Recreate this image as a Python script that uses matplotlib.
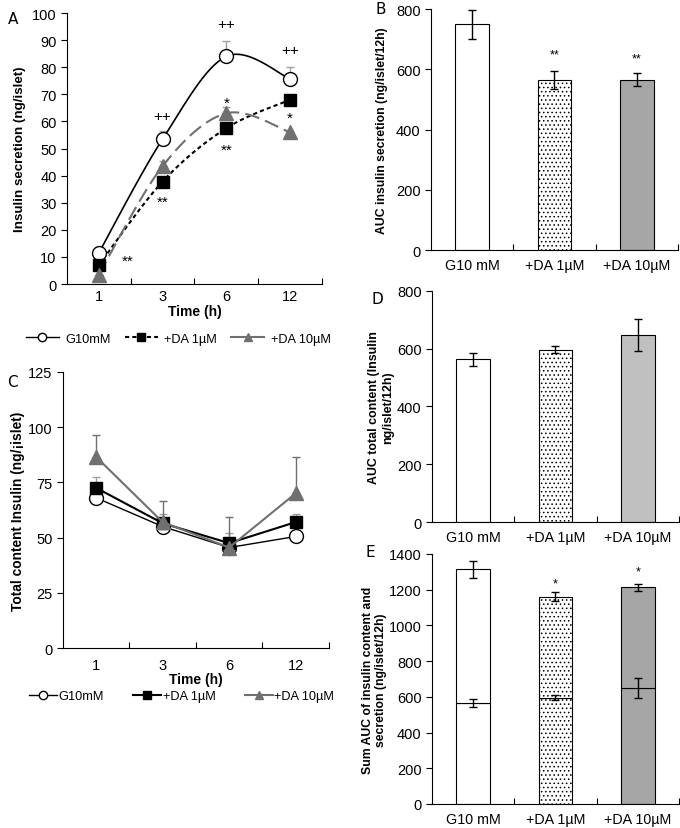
import numpy as np
import matplotlib
matplotlib.use('Agg')
import matplotlib.pyplot as plt
from matplotlib.lines import Line2D

plt.rcParams['font.family'] = ['Liberation Sans', 'DejaVu Sans']
plt.rcParams['hatch.linewidth'] = 0.6
plt.rcParams['font.size'] = 10

# ---- data ----
time_labels = ['1', '3', '6', '12']
series_names = ['G10mM', '+DA 1µM', '+DA 10µM']
groups = ['G10 mM', '+DA 1µM', '+DA 10µM']

# A: insulin secretion (ng/islet)
sec_g10 = [11.5, 53.5, 84.0, 75.7]
sec_da1 = [7.0, 37.8, 57.5, 68.0]
sec_da10 = [3.5, 43.5, 63.0, 56.0]
sec_g10_err = [0.0, 2.8, 5.5, 4.5]
sec_da10_err = [0.0, 2.0, 2.5, 0.0]

# C: total content insulin (ng/islet)
cont_g10 = [68.0, 55.0, 45.5, 50.5]
cont_da1 = [72.5, 56.5, 47.5, 57.0]
cont_da10 = [86.5, 57.0, 45.5, 70.0]
cont_da1_err = [5.0, 4.0, 4.5, 3.5]
cont_da10_err = [10.0, 9.5, 14.0, 16.5]

# B, D, E: AUC (ng/islet/12h)
auc_sec = [750, 565, 565]
auc_sec_err = [48, 30, 22]
auc_cont = [563, 596, 648]
auc_cont_err = [22, 12, 55]
auc_sum_err = [45, 25, 20]

# significance marks
a_marks = [(2, 62, '++'), (3, 96, '++'), (4, 86.5, '++'),
           (3, 67, '*'), (4, 61.5, '*'),
           (2, 30.5, '**'), (3, 49.5, '**'), (1.45, 8.5, '**')]
b_marks = [(2, 650, '**'), (3, 635, '**')]
e_marks = [(2, 1235, '*'), (3, 1300, '*')]


def smooth(x, y, n=30):
    # bezier curve through the points, like excel's smoothed line
    x = np.asarray(x, float)
    y = np.asarray(y, float)
    px = np.concatenate([[x[0]], x, [x[-1]]])
    py = np.concatenate([[y[0]], y, [y[-1]]])
    xs, ys = [], []
    for i in range(1, len(px) - 2):
        t = np.linspace(0, 1, n)
        c1x = px[i] + (px[i + 1] - px[i - 1]) / 6
        c1y = py[i] + (py[i + 1] - py[i - 1]) / 6
        c2x = px[i + 1] - (px[i + 2] - px[i]) / 6
        c2y = py[i + 1] - (py[i + 2] - py[i]) / 6
        bx = (1 - t)**3 * px[i] + 3 * (1 - t)**2 * t * c1x + 3 * (1 - t) * t**2 * c2x + t**3 * px[i + 1]
        by = (1 - t)**3 * py[i] + 3 * (1 - t)**2 * t * c1y + 3 * (1 - t) * t**2 * c2y + t**3 * py[i + 1]
        xs.extend(bx)
        ys.extend(by)
    return np.array(xs), np.array(ys)


def style_axes(ax, n):
    ax.spines['top'].set_visible(False)
    ax.spines['right'].set_visible(False)
    ax.set_xlim(0.5, n + 0.5)
    ax.set_xticks(np.arange(1.5, n + 1, 1.0))
    ax.set_xticklabels([])
    ax.tick_params(axis='x', which='major', direction='in', length=4)
    ax.tick_params(axis='y', direction='out', length=4, labelsize=10.5)


fig = plt.figure(figsize=(6.8, 8.29), dpi=100)
x = np.arange(1, 5)

# ---- A ----
axA = fig.add_axes([0.0985, 0.6562, 0.375, 0.3269])
style_axes(axA, 4)
axA.set_ylim(0, 100)
axA.set_yticks(range(0, 101, 10))
axA.set_xticks(x, minor=True)
axA.set_xticklabels(time_labels, minor=True)
axA.tick_params(axis='x', which='minor', length=0, labelsize=10.5)

axA.errorbar(x, sec_g10, yerr=[np.zeros(4), sec_g10_err], fmt='none', ecolor='#a0a0a0', elinewidth=1, capsize=3)
axA.errorbar(x, sec_da10, yerr=[np.zeros(4), sec_da10_err], fmt='none', ecolor='#a0a0a0', elinewidth=1, capsize=3)
sx, sy = smooth(x, sec_g10)
axA.plot(sx, sy, color='black', lw=1.2)
sx, sy = smooth(x, sec_da1)
axA.plot(sx, sy, color='black', lw=1.5, dashes=(2, 1.5))
sx, sy = smooth(x, sec_da10)
axA.plot(sx, sy, color='#707070', lw=1.5, dashes=(7, 3))
axA.plot(x, sec_g10, 'o', ms=10, mfc='white', mec='black', mew=1)
axA.plot(x, sec_da1, 's', ms=9, color='black')
axA.plot(x, sec_da10, '^', ms=10, color='#707070')
for xi, yi, t in a_marks:
    axA.text(xi, yi, t, ha='center', va='center', fontsize=11)
axA.set_ylabel('Insulin secretion (ng/islet)', fontweight='bold', fontsize=9.6, labelpad=4)
axA.set_xlabel('Time (h)', fontweight='bold', fontsize=10, labelpad=1)

handlesA = [Line2D([0], [0], color='black', lw=1, marker='o', ms=6, mfc='white', mec='black'),
            Line2D([0], [0], color='black', lw=1.5, dashes=(2, 1.5), marker='s', ms=6),
            Line2D([0], [0], color='#707070', lw=1.5, marker='^', ms=6)]
fig.legend(handlesA, series_names, ncol=3, loc='center', bbox_to_anchor=(0.262, 0.590),
           frameon=False, fontsize=9.2, handlelength=2.6, columnspacing=1.1, handletextpad=0.5)

# ---- C ----
axC = fig.add_axes([0.0926, 0.2171, 0.391, 0.333])
style_axes(axC, 4)
axC.set_ylim(0, 125)
axC.set_yticks(range(0, 126, 25))
axC.set_xticks(x, minor=True)
axC.set_xticklabels(time_labels, minor=True)
axC.tick_params(axis='x', which='minor', length=0, labelsize=10.5, pad=7)
axC.errorbar(x, cont_da1, yerr=[np.zeros(4), cont_da1_err], fmt='none', ecolor='#a0a0a0', elinewidth=1, capsize=3)
axC.errorbar(x, cont_da10, yerr=[np.zeros(4), cont_da10_err], fmt='none', ecolor='#707070', elinewidth=1, capsize=3)
axC.plot(x, cont_g10, '-o', color='black', lw=1, ms=10, mfc='white', mec='black')
axC.plot(x, cont_da1, '-s', color='black', lw=1.5, ms=9)
axC.plot(x, cont_da10, '-^', color='#707070', lw=1.5, ms=10)
axC.set_ylabel('Total content Insulin (ng/¡islet)', fontweight='bold', fontsize=9.9, labelpad=2)
axC.set_xlabel('Time (h)', fontweight='bold', fontsize=10, labelpad=0)

handlesC = [Line2D([0], [0], color='black', lw=1, marker='o', ms=6, mfc='white', mec='black'),
            Line2D([0], [0], color='black', lw=1.5, marker='s', ms=6),
            Line2D([0], [0], color='#707070', lw=1.5, marker='^', ms=6)]
fig.legend(handlesC, series_names, ncol=3, loc='center', bbox_to_anchor=(0.267, 0.159),
           frameon=False, fontsize=9.2, handlelength=2.2, columnspacing=2.3, handletextpad=0.1)

# ---- bar panels ----
bar_colors_B = ['white', 'white', '#a6a6a6']
bar_colors_D = ['white', 'white', '#c0c0c0']
hatches = [None, '....', None]
xb = np.arange(1, 4)


def bar_axes(rect, ymax, ystep):
    ax = fig.add_axes(rect)
    style_axes(ax, 3)
    ax.set_ylim(0, ymax)
    ax.set_yticks(range(0, ymax + 1, ystep))
    ax.set_xticks(xb, minor=True)
    ax.set_xticklabels(groups, minor=True)
    ax.tick_params(axis='x', which='minor', length=0, labelsize=10.3, pad=6)
    return ax


axB = bar_axes([0.6338, 0.6972, 0.363, 0.2907], 800, 200)
for i in range(3):
    axB.bar(xb[i], auc_sec[i], width=0.41, color=bar_colors_B[i], edgecolor='black', lw=0.8, hatch=hatches[i])
axB.errorbar(xb, auc_sec, yerr=auc_sec_err, fmt='none', ecolor='black', elinewidth=1, capsize=3)
for xi, yi, t in b_marks:
    axB.text(xi, yi, t, ha='center', va='center', fontsize=9)
axB.set_ylabel('AUC insulin secretion (ng/islet/12h)', fontweight='bold', fontsize=8.8, labelpad=6)

axD = bar_axes([0.6353, 0.3691, 0.363, 0.2787], 800, 200)
for i in range(3):
    axD.bar(xb[i], auc_cont[i], width=0.41, color=bar_colors_D[i], edgecolor='black', lw=0.8, hatch=hatches[i])
axD.errorbar(xb, auc_cont, yerr=auc_cont_err, fmt='none', ecolor='black', elinewidth=1, capsize=3)
axD.set_ylabel('AUC total content (Insulin\nng/islet/12h)', fontweight='bold', fontsize=8.9, labelpad=2)

axE = bar_axes([0.6353, 0.0290, 0.363, 0.3016], 1400, 200)
auc_sum = [c + s for c, s in zip(auc_cont, auc_sec)]
for i in range(3):
    axE.bar(xb[i], auc_cont[i], width=0.41, color=bar_colors_B[i], edgecolor='black', lw=0.8, hatch=hatches[i])
    axE.bar(xb[i], auc_sec[i], bottom=auc_cont[i], width=0.41, color=bar_colors_B[i],
            edgecolor='black', lw=0.8, hatch=hatches[i])
axE.errorbar(xb, auc_cont, yerr=auc_cont_err, fmt='none', ecolor='black', elinewidth=1, capsize=3)
axE.errorbar(xb, auc_sum, yerr=auc_sum_err, fmt='none', ecolor='black', elinewidth=1, capsize=3)
for xi, yi, t in e_marks:
    axE.text(xi, yi, t, ha='center', va='center', fontsize=9)
axE.set_ylabel('Sum AUC of insulin content and\nsecretion (ng/islet/12h)', fontweight='bold', fontsize=8.8, labelpad=1)

# panel letters
for lx, ly, letter in [(0.012, 0.985, 'A'), (0.552, 0.998, 'B'), (0.010, 0.548, 'C'),
                       (0.546, 0.648, 'D'), (0.538, 0.342, 'E')]:
    fig.text(lx, ly, letter, fontsize=11, family='DejaVu Sans', va='top')

fig.savefig('out.png', dpi=100)
